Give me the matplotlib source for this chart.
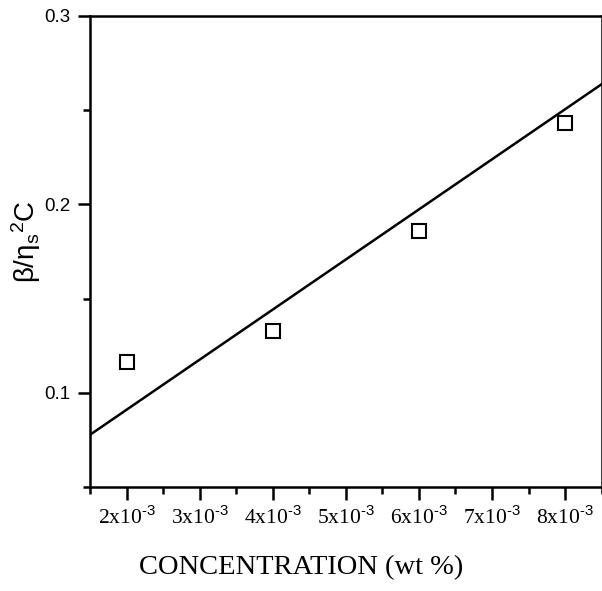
import matplotlib.pyplot as plt
from matplotlib.ticker import MultipleLocator

# data
conc = [2e-3, 4e-3, 6e-3, 8e-3]
ratio = [0.1165, 0.133, 0.186, 0.243]

# straight line drawn across the whole plot
fit_x = [1.5e-3, 8.5e-3]
fit_y = [0.0777, 0.2638]

xtick_vals = [2e-3, 3e-3, 4e-3, 5e-3, 6e-3, 7e-3, 8e-3]
xtick_text = [r'%dx10$^{\text{-}3}$' % k for k in range(2, 9)]
ytick_vals = [0.1, 0.2, 0.3]
ytick_text = ['0.1', '0.2', '0.3']

plt.rcParams['font.family'] = ['Liberation Serif', 'DejaVu Serif']
plt.rcParams['mathtext.fontset'] = 'custom'
plt.rcParams['mathtext.rm'] = 'Liberation Serif'
plt.rcParams['mathtext.it'] = 'Liberation Serif'
plt.rcParams['mathtext.default'] = 'rm'

fig = plt.figure(figsize=(6.02, 5.91), dpi=100)
ax = fig.add_axes([0.1495, 0.176, 0.85, 0.797])

ax.plot(fit_x, fit_y, color='black', lw=1.8)
ax.plot(conc, ratio, 's', ms=10, mfc='white', mec='black', mew=1.5)

ax.set_xlim(1.5e-3, 8.5e-3)
ax.set_ylim(0.05, 0.3)
ax.set_xticks(xtick_vals)
ax.set_xticklabels(xtick_text, fontsize=15.5)
ax.set_yticks(ytick_vals)
ax.set_yticklabels(ytick_text, family='Liberation Sans', fontsize=13.5)
ax.xaxis.set_minor_locator(MultipleLocator(0.5e-3))
ax.yaxis.set_minor_locator(MultipleLocator(0.05))

ax.tick_params(which='major', direction='out', length=9, width=1.8, pad=5)
ax.tick_params(which='minor', direction='out', length=5, width=1.8)
for s in ax.spines.values():
    s.set_linewidth(1.8)

ax.set_xlabel('CONCENTRATION (wt %)', fontsize=20.5)
ax.xaxis.set_label_coords((301 - 90) / 511, -0.145)
plt.rcParams['mathtext.rm'] = 'Liberation Sans'
ax.set_ylabel(r'$\beta/\eta_s{}^2$C', fontsize=20, family='Liberation Sans')
ax.yaxis.set_label_coords(-0.092, 0.52)

fig.savefig('out.png', dpi=100)
